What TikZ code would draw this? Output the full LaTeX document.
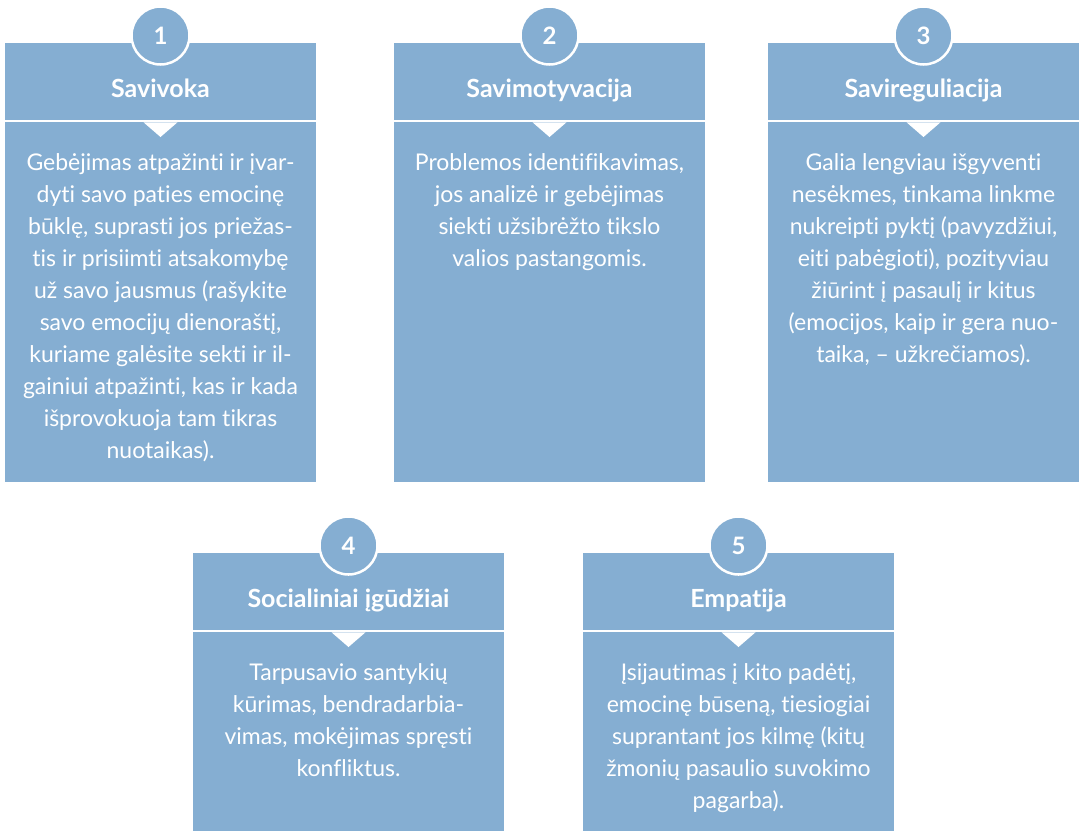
\documentclass[tikz,border=0pt]{standalone}
\usepackage{fontspec}
\setmainfont{Lato}[Ligatures=NoCommon]
\definecolor{boxblue}{RGB}{133,174,210}
\tikzset{
  panel/.style={fill=boxblue, draw=none, inner sep=0pt, outer sep=0pt},
  divider/.style={draw=white, line width=1.4pt},
  numcirc/.style={circle, fill=boxblue, draw=white, line width=2.5pt, minimum size=58pt, inner sep=0pt,
    font=\fontsize{24}{28}\selectfont\bfseries, text=white},
  paneltitle/.style={inner sep=0pt, text=white, font=\fontsize{25}{30}\selectfont\bfseries},
  panelbody/.style={inner sep=0pt, text=white, align=center, font=\fontsize{23}{32}\selectfont}
}
\newcommand\drawpanel[8]{%
  \pgfmathsetmacro\pcx{(#2+#3)/2}%
  \node[panel, anchor=north west, minimum width={(#3-#2)*1pt}, minimum height={(#5-#4)*1pt}] (#1) at (#2,#4) {};
  \draw[divider] (#2,#4+78) -- (#3,#4+78);
  \fill[white] (\pcx-17,#4+79.3) -- (\pcx+17,#4+79.3) -- (\pcx,#4+94) -- cycle;
  \node[numcirc] (#1num) at (\pcx,#4-7.5) {#6};
  \node[paneltitle, anchor=base] (#1title) at (\pcx,#4+54) {#7};
  \node[panelbody, anchor=north] (#1body) at (\pcx,#4+107) {\rule{0pt}{20pt}#8};
}
\begin{document}
\begin{tikzpicture}[x=1pt,y=-1pt]
\useasboundingbox (0,0) rectangle (1079,831);
\drawpanel{p1}{5}{316}{43}{482}{1}{Savivoka}{Gebėjimas atpažinti ir įvar-\\dyti savo paties emocinę\\būklę, suprasti jos priežas-\\tis ir prisiimti atsakomybę\\už savo jausmus (rašykite\\savo emocijų dienoraštį,\\kuriame galėsite sekti ir il-\\gainiui atpažinti, kas ir kada\\išprovokuoja tam tikras\\nuotaikas).}
\drawpanel{p2}{394}{705}{43}{482}{2}{Savimotyvacija}{Problemos identifikavimas,\\jos analizė ir gebėjimas\\siekti užsibrėžto tikslo\\valios pastangomis.}
\drawpanel{p3}{768}{1079}{43}{482}{3}{Savireguliacija}{Galia lengviau išgyventi\\nesėkmes, tinkama linkme\\nukreipti pyktį (pavyzdžiui,\\eiti pabėgioti), pozityviau\\žiūrint į pasaulį ir kitus\\(emocijos, kaip ir gera nuo-\\taika, – užkrečiamos).}
\drawpanel{p4}{193}{504}{553}{831}{4}{Socialiniai įgūdžiai}{Tarpusavio santykių\\kūrimas, bendradarbia-\\vimas, mokėjimas spręsti\\konfliktus.}
\drawpanel{p5}{583}{894}{553}{831}{5}{Empatija}{Įsijautimas į kito padėtį,\\emocinę būseną, tiesiogiai\\suprantant jos kilmę (kitų\\žmonių pasaulio suvokimo\\pagarba).}
\end{tikzpicture}
\end{document}
